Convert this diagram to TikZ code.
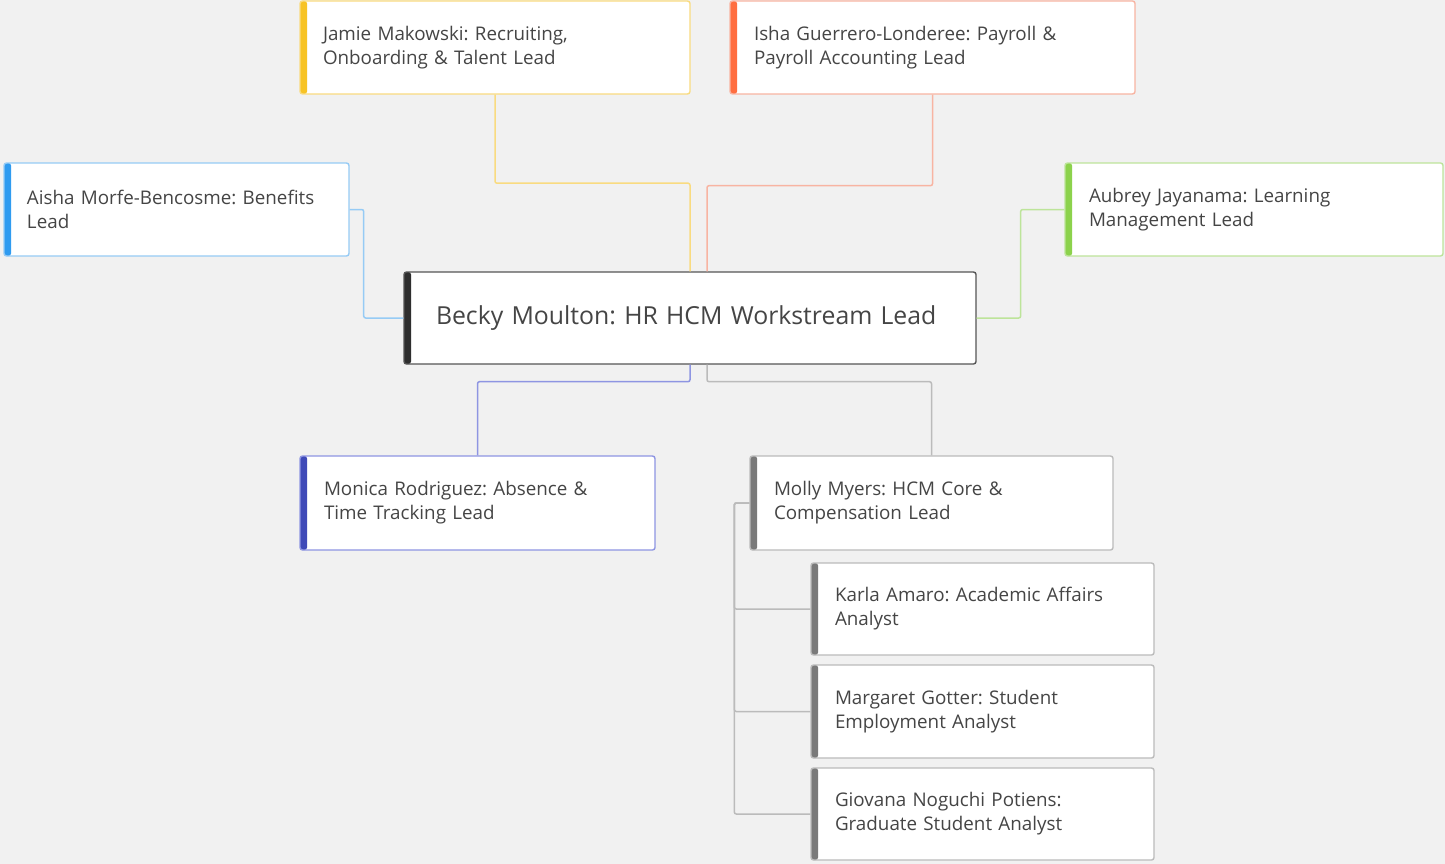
\documentclass[tikz,border=0pt]{standalone}
\usepackage{fontspec}
\setmainfont{Open Sans}
\frenchspacing
\definecolor{bg}{HTML}{F1F1F1}
\definecolor{txt}{HTML}{454545}
\definecolor{yelBar}{HTML}{F7C325}\definecolor{yelLine}{HTML}{F9DB80}
\definecolor{redBar}{HTML}{FF6E40}\definecolor{redLine}{HTML}{F8B4A2}
\definecolor{bluBar}{HTML}{2F9BF0}\definecolor{bluLine}{HTML}{96CBF5}
\definecolor{grnBar}{HTML}{8CD24C}\definecolor{grnLine}{HTML}{BDE49A}
\definecolor{darkBar}{HTML}{2E2E2E}\definecolor{darkLine}{HTML}{555555}
\definecolor{indBar}{HTML}{3F4AB8}\definecolor{indLine}{HTML}{8E95E2}
\definecolor{gryBar}{HTML}{7A7A7A}\definecolor{gryLine}{HTML}{BBBBBB}
\tikzset{
  orgbox/.style n args={6}{rectangle, draw=#2, line width=1.4pt, fill=white,
    rounded corners=2.5pt, minimum width=#3, minimum height=#4,
    text width=#5, inner xsep=#6, inner ysep=0pt, align=left, text=txt,
    font=\fontsize{18.8}{24}\selectfont,
    path picture={\fill[#1] (path picture bounding box.north west) rectangle ([xshift=7pt]path picture bounding box.south west);}},
  conn/.style={line width=1.5pt, rounded corners=2pt},
}
\begin{document}
\begin{tikzpicture}[x=1pt,y=-1pt]
\fill[bg] (0,0) rectangle (1445,864);
\useasboundingbox (0,0) rectangle (1445,864);

\node[orgbox={yelBar}{yelLine}{390pt}{93pt}{344pt}{23pt}] (jamie) at (495,47.5) {Jamie Makowski: Recruiting,\\Onboarding \& Talent Lead};
\node[orgbox={redBar}{redLine}{405pt}{93pt}{357pt}{24pt}] (isha) at (932.5,47.5) {Isha Guerrero-Londeree: Payroll \&\\Payroll Accounting Lead};
\node[orgbox={bluBar}{bluLine}{345pt}{93pt}{299pt}{23pt}] (aisha) at (176.5,209.5) {Aisha Morfe-Bencosme: Benefits\\Lead};
\node[orgbox={grnBar}{grnLine}{378pt}{93pt}{330pt}{24pt}] (aubrey) at (1254,209.5) {Aubrey Jayanama: Learning\\Management Lead};
\node[orgbox={darkBar}{darkLine}{572pt}{92pt}{508pt}{32pt}, font=\fontsize{24.8}{30}\selectfont] (becky) at (690,318) {Becky Moulton: HR HCM Workstream Lead};
\node[orgbox={indBar}{indLine}{355pt}{94pt}{307pt}{24pt}] (monica) at (477.5,503) {Monica Rodriguez: Absence \&\\Time Tracking Lead};
\node[orgbox={gryBar}{gryLine}{363pt}{94pt}{315pt}{24pt}] (molly) at (931.5,503) {Molly Myers: HCM Core \&\\Compensation Lead};
\node[orgbox={gryBar}{gryLine}{343pt}{92pt}{295pt}{24pt}] (karla) at (982.5,609) {Karla Amaro: Academic Affairs\\Analyst};
\node[orgbox={gryBar}{gryLine}{343pt}{93pt}{295pt}{24pt}] (margaret) at (982.5,711.5) {Margaret Gotter: Student\\Employment Analyst};
\node[orgbox={gryBar}{gryLine}{343pt}{92pt}{295pt}{24pt}] (giovana) at (982.5,814) {Giovana Noguchi Potiens:\\Graduate Student Analyst};

\draw[conn, yelLine] (jamie.south) -- ++(0,88.5) -| (becky.north);
\draw[conn, redLine] (isha.south) -- ++(0,91) -| ([xshift=17pt]becky.north);
\draw[conn, bluLine] (aisha.east) -- ++(14,0) |- (becky.west);
\draw[conn, grnLine] (becky.east) -- ++(44,0) |- (aubrey.west);
\draw[conn, indLine] (becky.south) -- ++(0,17) -| (monica.north);
\draw[conn, gryLine] ([xshift=17pt]becky.south) -- ++(0,17) -| (molly.north);
\draw[conn, gryLine] (molly.west) -- ++(-15,0) |- (karla.west);
\draw[conn, gryLine] (molly.west) -- ++(-15,0) |- (margaret.west);
\draw[conn, gryLine] (molly.west) -- ++(-15,0) |- (giovana.west);
\end{tikzpicture}
\end{document}
